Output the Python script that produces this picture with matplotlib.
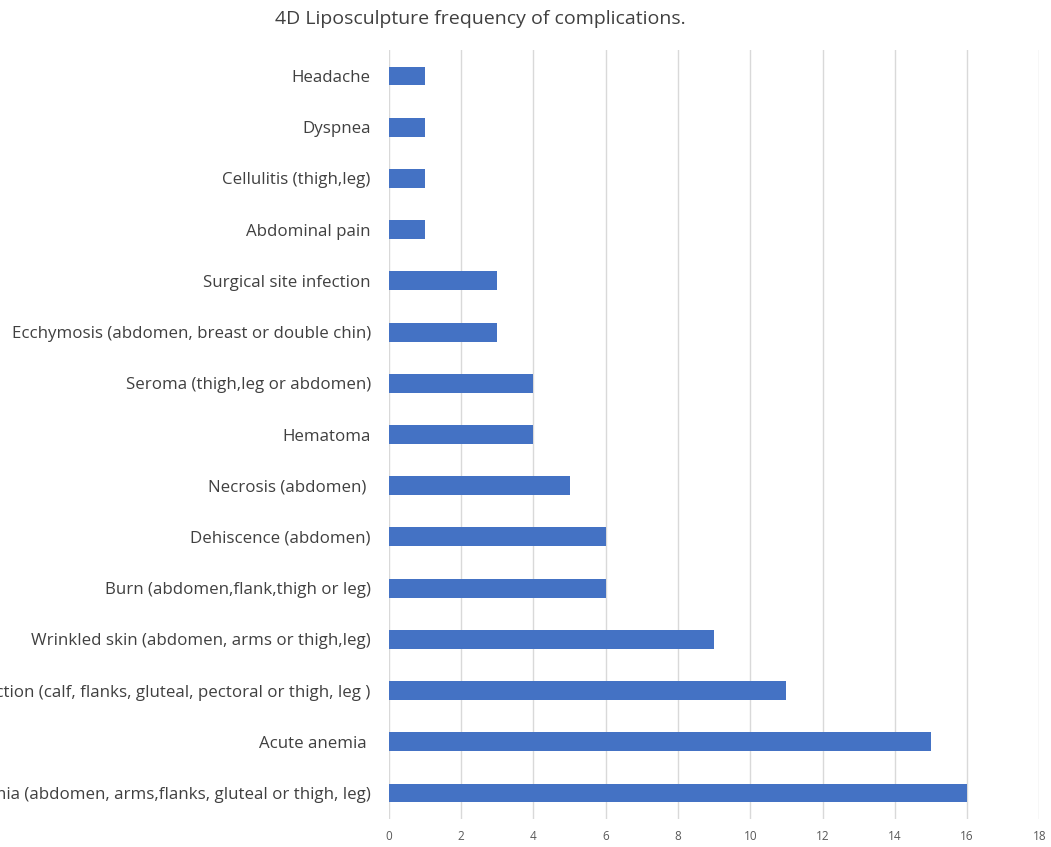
import matplotlib.pyplot as plt

complications = [
    'Dyschromia (abdomen, arms,flanks, gluteal or thigh, leg)',
    'Acute anemia ',
    'Undercorrection (calf, flanks, gluteal, pectoral or thigh, leg )',
    'Wrinkled skin (abdomen, arms or thigh,leg)',
    'Burn (abdomen,flank,thigh or leg)',
    'Dehiscence (abdomen)',
    'Necrosis (abdomen) ',
    'Hematoma',
    'Seroma (thigh,leg or abdomen)',
    'Ecchymosis (abdomen, breast or double chin)',
    'Surgical site infection',
    'Abdominal pain',
    'Cellulitis (thigh,leg)',
    'Dyspnea',
    'Headache',
]
frequency = [16, 15, 11, 9, 6, 6, 5, 4, 4, 3, 3, 1, 1, 1, 1]

plt.rcParams['font.family'] = ['Open Sans', 'DejaVu Sans']

fig = plt.figure(figsize=(10.51, 8.47), dpi=100)
ax = fig.add_axes([0.370, 0.0335, 0.619, 0.907])

ypos = range(len(complications))
ax.barh(ypos, frequency, height=0.37, color='#4472C4', zorder=3)

ax.set_xlim(0, 18)
ax.set_ylim(-0.5, len(complications) - 0.5)
ax.set_xticks(range(0, 19, 2))
ax.set_yticks(list(ypos))
ax.set_yticklabels(complications)

ax.grid(axis='x', color='#d9d9d9', linewidth=1, zorder=0)
for s in ax.spines.values():
    s.set_visible(False)
ax.tick_params(axis='y', length=0, pad=13, labelsize=12.2, labelcolor='#404040')
ax.tick_params(axis='x', length=0, pad=8, labelsize=8.5, labelcolor='#595959')

fig.text(0.457, 0.977, '4D Liposculpture frequency of complications.',
         ha='center', va='center', fontsize=14, color='#404040')

fig.savefig('out.png', dpi=100)
